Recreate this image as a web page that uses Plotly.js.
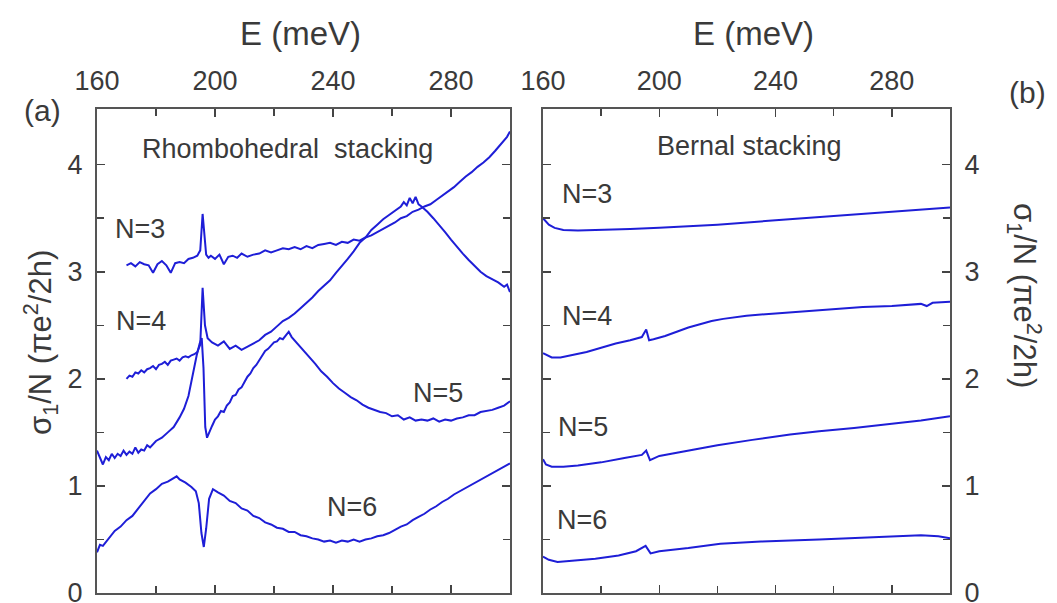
<!DOCTYPE html>
<html>
<head>
<meta charset="utf-8">
<script src="https://cdn.plot.ly/plotly-3.0.1.min.js"></script>
<style>html,body{margin:0;padding:0;background:#fff;}#chart{width:1057px;height:603px;}</style>
</head>
<body>
<div id="chart"></div>
<script>
// ---------- Panel (a): Rhombohedral stacking ----------
const rhoN3_E = [170,171.5,173,174.5,176,177.5,179,180.5,182,183.5,185,186.5,188,189.5,191,192.5,194,195,195.8,196.4,197,197.8,198.6,200,201.5,203,204.5,206,207.5,209,211,213,215,217,219,221,223,225,227,229,231,233,235,237,239,241,243,245,247,249,251,253,255,257,259,261,263,265,267,269,271,273,275,277,279,281,283,285,287,289,291,293,295,297,299,300];
const rhoN3_S = [3.06,3.08,3.05,3.09,3.07,3.06,2.99,3.07,3.1,3.06,2.99,3.08,3.09,3.08,3.12,3.13,3.15,3.2,3.54,3.3,3.16,3.13,3.15,3.12,3.16,3.07,3.14,3.15,3.13,3.17,3.14,3.16,3.17,3.2,3.18,3.2,3.22,3.21,3.23,3.21,3.24,3.22,3.25,3.26,3.27,3.25,3.28,3.27,3.3,3.29,3.32,3.34,3.37,3.4,3.43,3.46,3.5,3.52,3.56,3.58,3.61,3.63,3.67,3.71,3.75,3.79,3.84,3.89,3.93,3.98,4.02,4.07,4.13,4.19,4.26,4.31];

const rhoN4_E = [170,171,172,173,174,175,176,177,178,179,180,181,182,183,184,185,186,187,188,189,190,191,192,193,194,195,195.8,196.6,197.5,199,201,203,205,207,209,211,213,215,217,219,221,223,225,227,229,231,233,235,237,239,241,243,245,247,249,251,253,255,257,259,261,263,264,265,266,267,268,269,270,272,274,276,278,280,282,284,286,288,290,292,294,296,298,299,300];
const rhoN4_S = [2.0,2.03,2.02,2.06,2.05,2.08,2.06,2.09,2.1,2.12,2.09,2.13,2.14,2.16,2.13,2.17,2.18,2.19,2.17,2.2,2.21,2.2,2.22,2.23,2.25,2.32,2.85,2.5,2.38,2.34,2.31,2.35,2.28,2.31,2.27,2.3,2.33,2.36,2.41,2.44,2.49,2.54,2.57,2.61,2.66,2.71,2.76,2.82,2.87,2.92,2.99,3.05,3.12,3.19,3.27,3.32,3.39,3.44,3.49,3.53,3.57,3.61,3.65,3.62,3.69,3.64,3.7,3.63,3.61,3.56,3.5,3.44,3.37,3.3,3.23,3.17,3.11,3.05,3.0,2.96,2.93,2.9,2.86,2.88,2.81];

const rhoN5_E = [160,161,162,163,164,165,166,167,168,169,170,171,172,173,174,175,176,177,178,180,182,184,186,188,189.5,191,192.5,193.8,194.8,195.5,196.1,196.7,197.3,198,199,200,201,202,203,204,205,206,207,208,209,210,211,212,213,214,215,216,217,218,219,220,221,222,223,224,225,226,228,230,232,234,236,238,240,242,244,246,248,250,252,254,256,258,260,262,264,266,268,270,272,274,276,278,280,282,284,286,288,290,292,294,296,298,300];
const rhoN5_S = [1.33,1.26,1.2,1.27,1.24,1.3,1.26,1.3,1.28,1.33,1.29,1.32,1.3,1.36,1.31,1.34,1.33,1.38,1.36,1.42,1.45,1.5,1.55,1.64,1.72,1.84,2.05,2.22,2.33,2.38,2.1,1.55,1.45,1.5,1.56,1.62,1.65,1.7,1.69,1.75,1.78,1.84,1.85,1.9,1.92,1.97,2.02,2.05,2.1,2.13,2.17,2.21,2.26,2.28,2.31,2.34,2.35,2.38,2.37,2.41,2.44,2.39,2.33,2.27,2.2,2.14,2.07,2.02,1.96,1.91,1.87,1.83,1.8,1.76,1.73,1.71,1.69,1.68,1.65,1.66,1.62,1.64,1.61,1.62,1.61,1.63,1.6,1.62,1.61,1.63,1.64,1.66,1.66,1.69,1.7,1.71,1.73,1.75,1.79];

const rhoN6_E = [160,161,162,164,166,168,170,172,174,176,178,180,182,184,186,187,188,190,192,193.5,194.5,195.4,196.2,197,198,199.3,201,203,205,207,209,211,213,215,217,219,221,223,225,227,229,231,233,235,237,239,241,243,245,247,249,251,253,255,257,259,261,263,265,267,269,271,273,275,277,279,281,283,285,287,289,291,293,295,297,299,300];
const rhoN6_S = [0.38,0.45,0.44,0.51,0.58,0.62,0.68,0.72,0.79,0.85,0.93,0.97,1.02,1.04,1.07,1.09,1.06,1.03,0.99,0.95,0.84,0.56,0.43,0.6,0.88,0.97,0.94,0.91,0.86,0.84,0.79,0.77,0.72,0.7,0.66,0.64,0.61,0.6,0.57,0.57,0.54,0.53,0.51,0.5,0.48,0.49,0.47,0.49,0.48,0.5,0.48,0.5,0.51,0.53,0.54,0.56,0.59,0.62,0.64,0.68,0.71,0.74,0.78,0.81,0.85,0.88,0.92,0.95,0.98,1.01,1.04,1.07,1.1,1.13,1.16,1.19,1.21];

// ---------- Panel (b): Bernal stacking ----------
const berN3_E = [160,162,164,167,172,180,190,200,220,240,260,280,300];
const berN3_S = [3.5,3.44,3.41,3.39,3.385,3.39,3.4,3.41,3.44,3.48,3.52,3.56,3.6];

const berN4_E = [160,163,166,170,175,180,185,190,194,195.5,196.5,198,202,206,210,214,218,222,230,240,250,260,270,280,290,292,294,300];
const berN4_S = [2.24,2.2,2.2,2.22,2.25,2.29,2.33,2.36,2.39,2.46,2.36,2.37,2.4,2.44,2.48,2.51,2.54,2.56,2.59,2.61,2.63,2.65,2.67,2.68,2.7,2.68,2.71,2.72];

const berN5_E = [160,161,163,167,172,180,188,194,195.5,196.8,200,210,220,232,245,255,267,280,290,300];
const berN5_S = [1.25,1.2,1.18,1.18,1.19,1.22,1.26,1.29,1.33,1.24,1.28,1.33,1.38,1.43,1.48,1.51,1.54,1.58,1.61,1.65];

const berN6_E = [160,162,165,170,178,186,192,195.3,197,200,210,221,235,255,275,290,296,300];
const berN6_S = [0.34,0.31,0.29,0.3,0.32,0.35,0.39,0.44,0.37,0.39,0.42,0.46,0.48,0.5,0.52,0.54,0.53,0.51];

const xTickVals = [160,200,240,280];
const xMinorVals = [180,220,260];
const yTickVals = [0,1,2,3,4];
const yMinorVals = [0.5,1.5,2.5,3.5];

const LINE = 'rgb(30,30,215)';
const TXT = '#3a3a3a';
const FONT = 'Liberation Sans, Arial, Helvetica, sans-serif';

function tr(x, y, xa, ya) {
  return {x: x, y: y, type: 'scatter', mode: 'lines', xaxis: xa, yaxis: ya,
          line: {color: LINE, width: 2}, hoverinfo: 'skip', showlegend: false};
}

const data = [
  tr(rhoN3_E, rhoN3_S, 'x', 'y'),
  tr(rhoN4_E, rhoN4_S, 'x', 'y'),
  tr(rhoN5_E, rhoN5_S, 'x', 'y'),
  tr(rhoN6_E, rhoN6_S, 'x', 'y'),
  tr(berN3_E, berN3_S, 'x2', 'y2'),
  tr(berN4_E, berN4_S, 'x2', 'y2'),
  tr(berN5_E, berN5_S, 'x2', 'y2'),
  tr(berN6_E, berN6_S, 'x2', 'y2')
];

function xax(domain, anchor) {
  return {domain: domain, anchor: anchor, side: 'top', range: [160, 300],
          tickmode: 'array', tickvals: xTickVals, ticktext: xTickVals.map(String),
          ticks: 'inside', ticklen: 8, tickwidth: 1.5, tickcolor: '#444',
          ticklabelstandoff: 6, ticklabeloverflow: 'allow',
          minor: {tickmode: 'array', tickvals: xMinorVals, ticklen: 7, tickwidth: 1.5, tickcolor: '#444', ticks: 'inside'},
          showline: true, linecolor: '#555', linewidth: 2, mirror: 'ticks',
          showgrid: false, zeroline: false,
          tickfont: {family: FONT, size: 27, color: TXT}};
}
function yax(domain, anchor, side) {
  return {domain: domain, anchor: anchor, side: side, range: [0, 4.52],
          tickmode: 'array', tickvals: yTickVals, ticktext: yTickVals.map(String),
          ticks: 'inside', ticklen: 8, tickwidth: 1.5, tickcolor: '#444',
          ticklabelstandoff: 7, ticklabeloverflow: 'allow',
          minor: {tickmode: 'array', tickvals: yMinorVals, ticklen: 7, tickwidth: 1.5, tickcolor: '#444', ticks: 'inside'},
          showline: true, linecolor: '#555', linewidth: 2, mirror: 'ticks',
          showgrid: false, zeroline: false,
          tickfont: {family: FONT, size: 27, color: TXT}};
}

function lab(text, x, y, xr, yr, size) {
  return {text: text, x: x, y: y, xref: xr, yref: yr, showarrow: false,
          xanchor: 'center', yanchor: 'middle',
          font: {family: FONT, size: size || 27, color: TXT}};
}

const yTitle = 'σ<sub>1</sub>/N (πe<sup>2</sup>/2h)';

const annotations = [
  lab('Rhombohedral  stacking', 224.7, 4.15, 'x', 'y', 27),
  lab('N=3', 174.5, 3.4, 'x', 'y'),
  lab('N=4', 175, 2.54, 'x', 'y'),
  lab('N=5', 275.6, 1.87, 'x', 'y'),
  lab('N=6', 246.4, 0.8, 'x', 'y'),
  lab('Bernal stacking', 231, 4.17, 'x2', 'y2', 27),
  lab('N=3', 175, 3.73, 'x2', 'y2'),
  lab('N=4', 175, 2.59, 'x2', 'y2'),
  lab('N=5', 173.7, 1.55, 'x2', 'y2'),
  lab('N=6', 173.4, 0.68, 'x2', 'y2'),
  lab('E (meV)', 300/1057, 1 - 34/603, 'paper', 'paper', 33),
  lab('E (meV)', 753/1057, 1 - 34/603, 'paper', 'paper', 33),
  lab('(a)', 42/1057, 1 - 110/603, 'paper', 'paper', 30),
  lab('(b)', 1027/1057, 1 - 93/603, 'paper', 'paper', 30),
  Object.assign(lab(yTitle, 40/1057, 1 - 343/603, 'paper', 'paper', 31), {textangle: -90}),
  Object.assign(lab(yTitle, 1025/1057, 1 - 295/603, 'paper', 'paper', 31), {textangle: 90})
];

const layout = {
  width: 1057, height: 603,
  margin: {l: 0, r: 0, t: 0, b: 0},
  paper_bgcolor: '#fff', plot_bgcolor: '#fff',
  showlegend: false,
  xaxis: xax([97/1057, 510/1057], 'y'),
  yaxis: yax([10/603, 494/603], 'x', 'left'),
  xaxis2: xax([543/1057, 950/1057], 'y2'),
  yaxis2: yax([10/603, 494/603], 'x2', 'right'),
  annotations: annotations
};

Plotly.newPlot('chart', data, layout, {displayModeBar: false, staticPlot: true});
</script>
</body>
</html>
